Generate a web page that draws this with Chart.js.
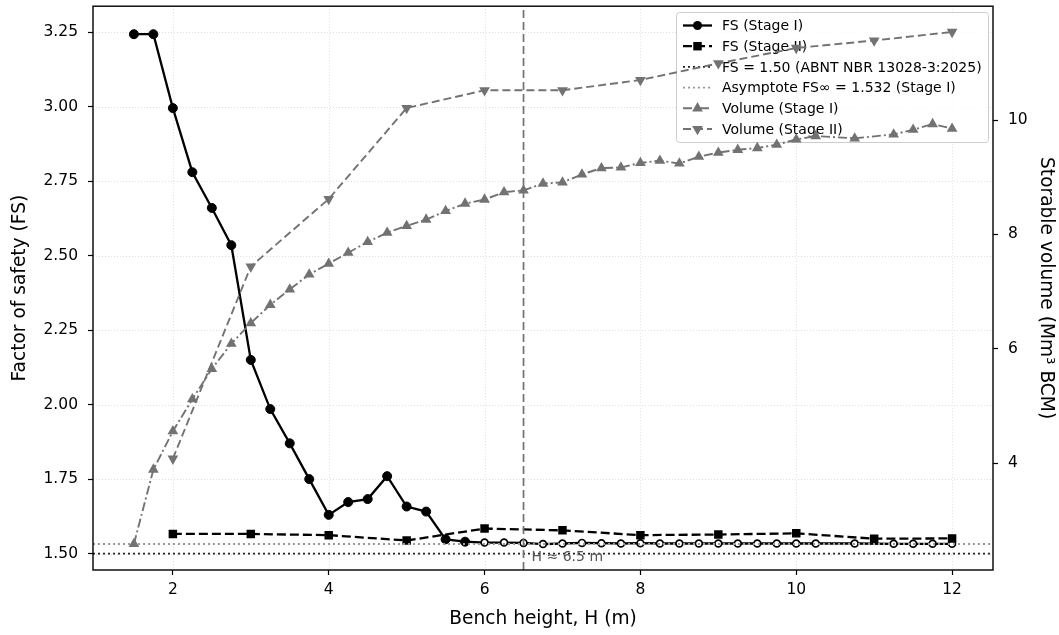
<!DOCTYPE html>
<html>
<head>
<meta charset="utf-8">
<script src="https://cdn.jsdelivr.net/npm/chart.js@4.4.0/dist/chart.umd.min.js"></script>
<style>
  html, body { margin: 0; padding: 0; background: #fff; }
  #wrap { width: 1059px; height: 635px; }
</style>
</head>
<body>
<div id="wrap"><canvas id="fsChart" width="1059" height="635"></canvas></div>
<script>
// bench heights (m) for stage I runs, 0.25 m steps
const benchH = [1.5, 1.75, 2, 2.25, 2.5, 2.75, 3, 3.25, 3.5, 3.75, 4, 4.25, 4.5, 4.75, 5, 5.25,
  5.5, 5.75, 6, 6.25, 6.5, 6.75, 7, 7.25, 7.5, 7.75, 8, 8.25, 8.5, 8.75, 9, 9.25, 9.5, 9.75,
  10, 10.25, 10.5, 10.75, 11, 11.25, 11.5, 11.75, 12];
const fsStage1 = [3.243, 3.243, 2.995, 2.780, 2.660, 2.535, 2.150, 1.985, 1.870, 1.750, 1.630,
  1.673, 1.683, 1.760, 1.658, 1.641, 1.548, 1.540, 1.537, 1.537, 1.536, 1.532, 1.534, 1.536,
  1.535, 1.534, 1.535, 1.534, 1.534, 1.534, 1.534, 1.534, 1.534, 1.534, 1.534, 1.534, null,
  1.534, null, 1.533, 1.533, 1.533, 1.533];
const volStage1 = [2.59, 3.89, 4.56, 5.12, 5.65, 6.09, 6.45, 6.77, 7.04, 7.30, 7.49, 7.68, 7.87,
  8.03, 8.15, 8.26, 8.41, 8.54, 8.61, 8.74, 8.77, 8.89, 8.91, 9.05, 9.16, 9.17, 9.25, 9.29, 9.24,
  9.36, 9.43, 9.48, 9.51, 9.57, 9.66, 9.72, null, 9.68, null, 9.75, 9.83, 9.93, 9.85];

// stage II runs, 1 m steps
const benchH2 = [2, 3, 4, 5, 6, 7, 8, 9, 10, 11, 12];
const fsStage2 = [1.566, 1.566, 1.562, 1.544, 1.584, 1.578, 1.562, 1.564, 1.568, 1.550, 1.551];
const volStage2 = [4.08, 7.44, 8.62, 10.21, 10.52, 10.52, 10.70, 10.99, 11.26, 11.39, 11.54];

const fsMin = 1.50;
const fsAsymptote = 1.532;
const hMark = 6.5;

const xTicks = [2, 4, 6, 8, 10, 12];
const fsTicks = [1.50, 1.75, 2.00, 2.25, 2.50, 2.75, 3.00, 3.25];
const volTicks = [4, 6, 8, 10];

const xRange = [0.975, 12.525];
const fsRange = [1.445, 3.337];
const volRange = [2.134, 11.99];

const GRAY = "#727272";
const TICK_FONT = 15.5;
const TITLE_FONT = 18.6;

Chart.defaults.font.family = "'DejaVu Sans', sans-serif";
Chart.defaults.color = "#000";

const pts = (xs, ys) => xs.map((x, i) => ({ x: x, y: ys[i] }));

const datasets = [
    {
        label: "FS (Stage I)",
        data: pts(benchH, fsStage1),
        yAxisID: "y",
        borderColor: "#000",
        borderWidth: 2.3,
        pointStyle: "circle",
        pointRadius: benchH.map(h => h >= 6 ? 3.4 : 4.5),
        pointBorderWidth: benchH.map(h => h >= 6 ? 1.7 : 1),
        pointBorderColor: "#000",
        pointBackgroundColor: benchH.map(h => h >= 6 ? "#fff" : "#000"),
        spanGaps: true,
        order: 7
    },
    {
        label: "FS (Stage II)",
        data: pts(benchH2, fsStage2),
        yAxisID: "y",
        borderColor: "#000",
        borderWidth: 2.3,
        borderDash: [9, 4],
        pointStyle: "rect",
        pointRadius: 6,
        pointBorderWidth: 0,
        pointBackgroundColor: "#000",
        order: 6
    },
    {
        label: "FS = 1.50 (ABNT NBR 13028-3:2025)",
        data: pts(xRange, [fsMin, fsMin]),
        yAxisID: "y",
        borderColor: "#222",
        borderWidth: 1.9,
        borderDash: [2, 3],
        pointRadius: 0,
        order: 5
    },
    {
        label: "Asymptote FS\u221E = 1.532 (Stage I)",
        data: pts(xRange, [fsAsymptote, fsAsymptote]),
        yAxisID: "y",
        borderColor: "#9a9a9a",
        borderWidth: 1.9,
        borderDash: [2, 3],
        pointRadius: 0,
        order: 4
    },
    {
        label: "H mark",
        data: pts([hMark, hMark], fsRange),
        yAxisID: "y",
        borderColor: GRAY,
        borderWidth: 1.7,
        borderDash: [8, 4],
        pointRadius: 0,
        order: 3
    },
    {
        label: "Volume (Stage I)",
        data: pts(benchH, volStage1),
        yAxisID: "y1",
        borderColor: GRAY,
        borderWidth: 1.9,
        borderDash: [9, 3, 2, 3],
        pointStyle: "triangle",
        pointRadius: 6.2,
        pointBorderWidth: 0,
        pointBackgroundColor: GRAY,
        spanGaps: true,
        order: 2
    },
    {
        label: "Volume (Stage II)",
        data: pts(benchH2, volStage2),
        yAxisID: "y1",
        borderColor: GRAY,
        borderWidth: 1.9,
        borderDash: [8, 4],
        pointStyle: "triangle",
        pointRotation: 180,
        pointRadius: 6.2,
        pointBorderWidth: 0,
        pointBackgroundColor: GRAY,
        order: 1
    }
];

// legend rows, by dataset index
const legendRows = [0, 1, 2, 3, 5, 6];

function drawMarker(ctx, ds, x, y) {
    if (!ds.pointStyle || !ds.pointRadius) return;
    const r = Array.isArray(ds.pointRadius) ? ds.pointRadius[0] : ds.pointRadius;
    const bg = Array.isArray(ds.pointBackgroundColor) ? ds.pointBackgroundColor[0] : ds.pointBackgroundColor;
    ctx.save();
    ctx.fillStyle = bg;
    ctx.beginPath();
    if (ds.pointStyle === "circle") {
        ctx.arc(x, y, r, 0, Math.PI * 2);
    } else if (ds.pointStyle === "rect") {
        const s = r / Math.SQRT2;
        ctx.rect(x - s, y - s, 2 * s, 2 * s);
    } else {
        const rot = (ds.pointRotation || 0) * Math.PI / 180;
        for (let k = 0; k < 3; k++) {
            const a = rot - Math.PI / 2 + k * 2 * Math.PI / 3;
            const px = x + Math.cos(a) * r, py = y + Math.sin(a) * r;
            k === 0 ? ctx.moveTo(px, py) : ctx.lineTo(px, py);
        }
        ctx.closePath();
    }
    ctx.fill();
    ctx.restore();
}

const decorPlugin = {
    id: "decor",
    beforeDatasetsDraw(chart) {
        const { ctx, chartArea: a, scales } = chart;
        ctx.save();
        ctx.strokeStyle = "rgba(0,0,0,0.16)";
        ctx.lineWidth = 0.8;
        ctx.setLineDash([1, 2]);
        xTicks.forEach(v => {
            const px = Math.round(scales.x.getPixelForValue(v)) + 0.5;
            ctx.beginPath(); ctx.moveTo(px, a.top); ctx.lineTo(px, a.bottom); ctx.stroke();
        });
        fsTicks.forEach(v => {
            const py = Math.round(scales.y.getPixelForValue(v)) + 0.5;
            ctx.beginPath(); ctx.moveTo(a.left, py); ctx.lineTo(a.right, py); ctx.stroke();
        });
        ctx.restore();

        // legend (belongs to the FS axis, so the volume lines draw over it)
        const bx = 676, by = 12, bw = 312, bh = 130;
        ctx.save();
        ctx.fillStyle = "rgba(255,255,255,0.8)";
        ctx.strokeStyle = "#cccccc";
        ctx.lineWidth = 1;
        ctx.beginPath();
        ctx.roundRect(bx + 0.5, by + 0.5, bw, bh, 3);
        ctx.fill(); ctx.stroke();
        ctx.font = "14px 'DejaVu Sans'";
        ctx.textBaseline = "middle";
        ctx.textAlign = "left";
        legendRows.forEach((idx, i) => {
            const ds = datasets[idx];
            const y = by + 13.5 + i * 20.7;
            ctx.save();
            ctx.strokeStyle = ds.borderColor;
            ctx.lineWidth = ds.borderWidth;
            ctx.setLineDash(ds.borderDash || []);
            ctx.beginPath(); ctx.moveTo(683, y); ctx.lineTo(712, y); ctx.stroke();
            ctx.restore();
            drawMarker(ctx, ds, 697.5, y);
            ctx.fillStyle = "#000";
            ctx.fillText(ds.label, 722, y + 1);
        });
        ctx.restore();
    },
    afterDatasetsDraw(chart) {
        const { ctx, scales } = chart;
        ctx.save();
        ctx.fillStyle = "#555";
        ctx.font = "14px 'DejaVu Sans'";
        ctx.textBaseline = "middle";
        ctx.fillText("H \u2248 6.5 m", scales.x.getPixelForValue(hMark) + 8, scales.y.getPixelForValue(1.488));
        ctx.restore();
    },
    afterDraw(chart) {
        const { ctx, chartArea: a } = chart;
        ctx.save();
        ctx.strokeStyle = "#000";
        ctx.lineWidth = 1.4;
        ctx.strokeRect(a.left, a.top, a.right - a.left, a.bottom - a.top);
        ctx.restore();
    }
};

const tickGrid = { drawOnChartArea: false, drawTicks: true, tickLength: 5, tickColor: "#000", tickWidth: 1.2 };

// fixed box sizes so the plot area sits where the reference has it
const fitY = w => s => { s.width = w; s.paddingTop = 0; s.paddingBottom = 0; };

new Chart(document.getElementById("fsChart").getContext("2d"), {
    type: "line",
    data: { datasets: datasets },
    options: {
        responsive: false,
        animation: false,
        devicePixelRatio: 1,
        events: [],
        layout: { padding: { top: 5, left: 0, right: 0, bottom: 0 } },
        plugins: { legend: { display: false }, tooltip: { enabled: false } },
        scales: {
            x: {
                type: "linear",
                position: "bottom",
                min: xRange[0],
                max: xRange[1],
                afterBuildTicks: s => { s.ticks = xTicks.map(v => ({ value: v })); },
                afterFit: s => { s.height = 65; s.paddingLeft = 0; s.paddingRight = 0; },
                ticks: { font: { size: TICK_FONT }, padding: 6, maxRotation: 0, callback: v => String(v) },
                grid: tickGrid,
                border: { display: false },
                title: { display: true, text: "Bench height, H (m)", font: { size: TITLE_FONT }, padding: { top: 0, bottom: 5 } }
            },
            y: {
                type: "linear",
                position: "left",
                min: fsRange[0],
                max: fsRange[1],
                afterBuildTicks: s => { s.ticks = fsTicks.map(v => ({ value: v })); },
                afterFit: fitY(93),
                ticks: { font: { size: TICK_FONT }, padding: 10, callback: v => v.toFixed(2) },
                grid: tickGrid,
                border: { display: false },
                title: { display: true, text: "Factor of safety (FS)", font: { size: TITLE_FONT }, padding: { top: 9, bottom: 0 } }
            },
            y1: {
                type: "linear",
                position: "right",
                min: volRange[0],
                max: volRange[1],
                afterBuildTicks: s => { s.ticks = volTicks.map(v => ({ value: v })); },
                afterFit: fitY(66),
                ticks: { font: { size: TICK_FONT }, padding: 10, callback: v => String(v) },
                grid: tickGrid,
                border: { display: false },
                title: { display: true, text: "Storable volume (Mm\u00B3 BCM)", font: { size: TITLE_FONT }, padding: { top: 2, bottom: 0 } }
            }
        }
    },
    plugins: [decorPlugin]
});
</script>
</body>
</html>
